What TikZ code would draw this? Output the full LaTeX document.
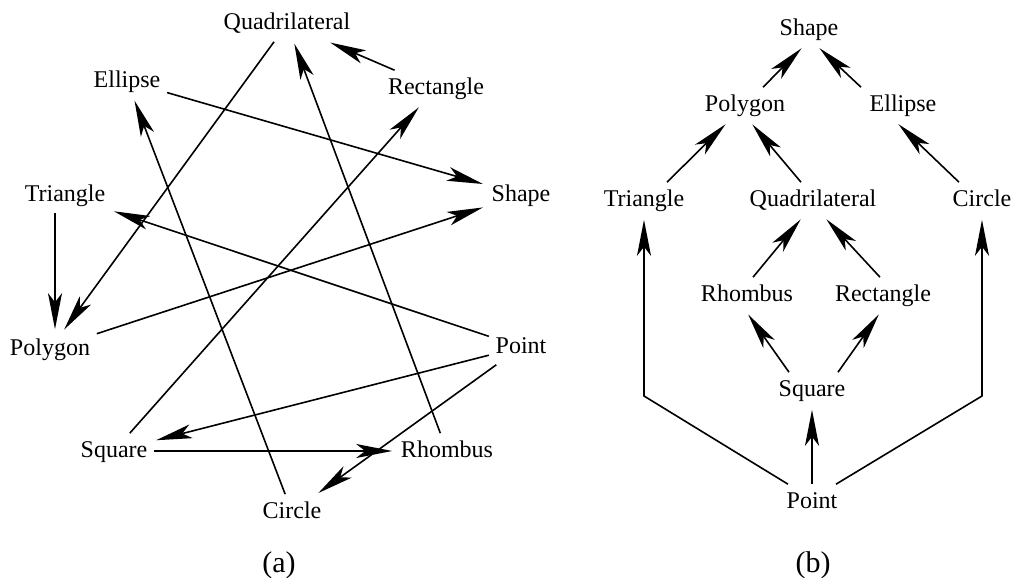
\documentclass[tikz,border=0pt]{standalone}
\usepackage{fontspec}
\setmainfont{Liberation Serif}
\usetikzlibrary{arrows.meta,positioning}

\begin{document}
\begin{tikzpicture}[x=0.5pt,y=-0.5pt,>={Stealth[length=18pt,width=7pt,inset=4.5pt]},shorten >=1pt,line width=0.8pt,
	every node/.style={font=\fontsize{12}{14}\selectfont,text height=8.5pt,text depth=2.5pt,inner sep=3pt}]
			\useasboundingbox (0,0) rectangle (1013,578);
			% (a)
			\node (quad_a) at (287,24) {Quadrilateral};
			\node (ell_a) at (127,81) {Ellipse};
			\node (rect_a) at (436,88) {Rectangle};
			\node (tri_a) at (65,195) {Triangle};
			\node (shp_a) at (521,195) {Shape};
			\node (poly_a) at (50,349) {Polygon};
			\node (pt_a) at (521,347) {Point};
			\node (sq_a) at (114,451) {Square};
			\node (rho_a) at (447,451) {Rhombus};
			\node (circ_a) at (292,512) {Circle};
			\node[font=\fontsize{15}{17}\selectfont] (lbl_a) at (279,566) {(a)};
			\path[->]
				(rect_a) edge (quad_a)
				(quad_a) edge (poly_a)
				(rho_a) edge (quad_a)
				(circ_a) edge (ell_a)
				(ell_a) edge (shp_a)
				(sq_a) edge (rect_a)
				(pt_a) edge (tri_a)
				([xshift=-5pt]tri_a.south) edge ([xshift=2.5pt]poly_a.north)
				(poly_a) edge (shp_a)
				(pt_a) edge (sq_a)
				(sq_a) edge (rho_a)
				(pt_a) edge (circ_a);
			% (b)
			\node (shp_b) at (809,29) {Shape};
			\node (poly_b) at (745,105) {Polygon};
			\node (ell_b) at (903,105) {Ellipse};
			\node (tri_b) at (644,200) {Triangle};
			\node (quad_b) at (813,200) {Quadrilateral};
			\node (circ_b) at (982,200) {Circle};
			\node (rho_b) at (747,295) {Rhombus};
			\node (rect_b) at (883,295) {Rectangle};
			\node (sq_b) at (812,390) {Square};
			\node (pt_b) at (812,502) {Point};
			\node[font=\fontsize{15}{17}\selectfont] (lbl_b) at (813,566) {(b)};
			\coordinate (lbend) at (644,396);
			\coordinate (rbend) at (982,396);
			\path[->]
				([xshift=9pt]poly_b.north) edge ([xshift=-3pt]shp_b.south)
				([xshift=-21pt]ell_b.north) edge ([xshift=4.5pt]shp_b.south)
				([xshift=11.5pt]tri_b.north) edge ([xshift=-9pt]poly_b.south)
				([xshift=-6pt]quad_b.north) edge ([xshift=3pt]poly_b.south)
				([xshift=-11.5pt]circ_b.north) edge ([xshift=-3pt]ell_b.south)
				([xshift=3pt]rho_b.north) edge ([xshift=-5.5pt]quad_b.south)
				([xshift=-1.5pt]rect_b.north) edge ([xshift=6pt]quad_b.south)
				([xshift=-11.5pt]sq_b.north) edge (rho_b.south)
				([xshift=13pt]sq_b.north) edge ([xshift=-1.5pt]rect_b.south)
				(pt_b) edge (sq_b);
			\draw[->] ([xshift=-12pt]pt_b.north) -- (lbend) -- (tri_b.south);
			\draw[->] ([xshift=12pt]pt_b.north) -- (rbend) -- (circ_b.south);
		\end{tikzpicture}
\end{document}
